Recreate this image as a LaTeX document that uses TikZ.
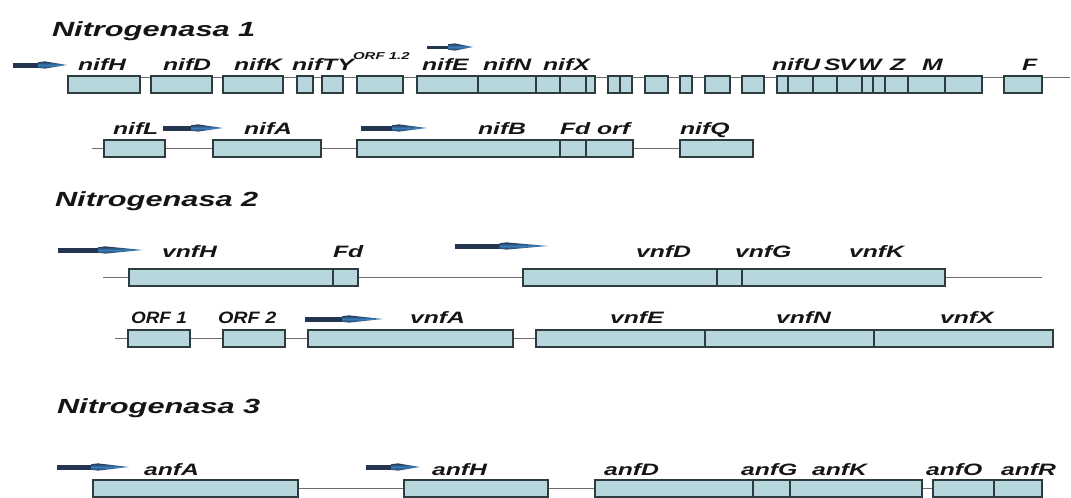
\documentclass[tikz,border=0pt]{standalone}
\usepackage{fontspec}
\usepackage{graphicx}
\setmainfont{Liberation Sans}
\usetikzlibrary{fit,backgrounds}
\definecolor{boxfill}{HTML}{B8D7DC}
\definecolor{boxline}{HTML}{2E3C40}
\definecolor{bbline}{HTML}{6E6E6E}
\definecolor{txt}{HTML}{151515}
\definecolor{arrdark}{HTML}{243552}
\definecolor{arrblue}{HTML}{3A7DB8}
\newcommand\sx[1]{\scalebox{1.5}[1]{#1}}
\newcommand\labfont{\fontsize{16.5}{19}\selectfont\bfseries\itshape}
\newcommand\ttlfont{\fontsize{20.5}{24}\selectfont\bfseries\itshape}
\newcommand\supfont{\fontsize{10}{12}\selectfont\bfseries\itshape}
\tikzset{
  gene/.style={draw=boxline, fill=boxfill, line width=1.4pt, inner sep=0pt, outer sep=0pt},
  backbone/.style={draw=bbline, line width=1pt},
  lab/.style={anchor=base west, inner sep=0pt, outer sep=0pt, text=txt, font=\labfont},
  ttl/.style={lab, font=\ttlfont},
  suplab/.style={lab, font=\supfont},
  arrbody/.style={draw=arrdark, line cap=butt},
}
% gene box: name, x1, x2, ytop
\newcommand\gene[4]{\node[gene, fit={(#2,#4) (#3,#4+17)}] (#1) {};}
% label: [style], name, x, baseline, text
\newcommand\glab[5][lab]{\node[#1] (#2) at (#3,#4) {\sx{#5}};}
% label with own horizontal scale: [style], name, x, baseline, text, scale
\newcommand\glabs[6][lab]{\node[#1] (#2) at (#3,#4) {\scalebox{#6}[1]{#5}};}
% promoter arrow: [body width], name, x1, x2, y
\newcommand\promo[5][5pt]{%
  \coordinate (#2s) at (#3,#5);
  \coordinate (#2e) at (#4,#5);
  \coordinate (#2h) at ({#3+0.5*(#4-#3)},#5);
  \draw[arrbody, line width=#1] (#2s) -- (#2h);
  \shade[top color=arrdark, bottom color=arrdark, middle color=arrblue]
    ([xshift=-2pt,yshift=2.8pt]#2h) -- ([xshift=5pt,yshift=3.6pt]#2h) -- (#2e)
    -- ([xshift=5pt,yshift=-3.6pt]#2h) -- ([xshift=-2pt,yshift=-2.8pt]#2h) -- cycle;
}
\begin{document}
\begin{tikzpicture}[x=1pt,y=-1pt]
\useasboundingbox (0,0) rectangle (1071,498);

% ---------------- Nitrogenasa 1 ----------------
\glab[ttl]{t1}{52}{36}{Nitrogenasa 1}
% row 1 genes
\gene{nifH}{68}{140}{76}
\gene{nifD}{151}{212}{76}
\gene{nifK}{223}{283}{76}
\gene{nifT}{297}{313}{76}
\gene{nifY}{322}{343}{76}
\gene{orf12}{357}{403}{76}
\gene{nifE}{417}{478}{76}
\gene{nifN}{478}{536}{76}
\gene{nifX}{536}{560}{76}
\gene{g1}{560}{586}{76}
\gene{g2}{586}{595}{76}
\gene{g3}{608}{620}{76}
\gene{g4}{620}{632}{76}
\gene{g5}{645}{668}{76}
\gene{g6}{680}{692}{76}
\gene{g7}{705}{730}{76}
\gene{g8}{742}{764}{76}
\gene{nifU}{777}{788}{76}
\gene{g9}{788}{813}{76}
\gene{nifS}{813}{837}{76}
\gene{nifV}{837}{862}{76}
\gene{nifW}{862}{873}{76}
\gene{g10}{873}{885}{76}
\gene{nifZ}{885}{908}{76}
\gene{nifM}{908}{945}{76}
\gene{g11}{945}{982}{76}
\gene{nifF}{1004}{1042}{76}
\coordinate (r1e) at (1070,77);
\begin{pgfonlayer}{background}
  \draw[backbone] ([yshift=-1pt]nifH.north west) -- (r1e);
\end{pgfonlayer}
\promo{a1}{13}{67}{65}
\promo[3pt]{a2}{427}{473}{47}
\glab{lnifH}{78}{70}{nifH}
\glab{lnifD}{163}{70}{nifD}
\glab{lnifK}{234}{70}{nifK}
\glab{lnifTY}{292}{70}{nifTY}
\glab[suplab]{lorf12}{353}{59}{ORF 1.2}
\glab{lnifE}{422}{70}{nifE}
\glab{lnifN}{483}{70}{nifN}
\glab{lnifX}{543}{70}{nifX}
\glab{lnifU}{772}{70}{nifU}
\glab{lS}{824}{70}{S}
\glab{lV}{839}{70}{V}
\glab{lW}{858}{70}{W}
\glab{lZ}{890}{70}{Z}
\glab{lM}{922}{70}{M}
\glab{lF}{1022}{70}{F}

% row 2 genes
\gene{nifL}{104}{165}{140}
\gene{nifA}{213}{321}{140}
\gene{nifB}{357}{560}{140}
\gene{nifFd}{560}{586}{140}
\gene{niforf}{586}{633}{140}
\gene{nifQ}{680}{753}{140}
\coordinate (r2s) at (92,148.5);
\begin{pgfonlayer}{background}
  \draw[backbone] (r2s) -- (nifQ.west);
\end{pgfonlayer}
\promo{a3}{163}{223}{128}
\promo{a4}{361}{427}{128}
\glab{lnifL}{113}{134}{nifL}
\glab{lnifA}{244}{134}{nifA}
\glab{lnifB}{478}{134}{nifB}
\glab{lFd1}{560}{134}{Fd}
\glab{lorf}{597}{134}{orf}
\glab{lnifQ}{680}{134}{nifQ}

% ---------------- Nitrogenasa 2 ----------------
\glab[ttl]{t2}{55}{206}{Nitrogenasa 2}
\gene{vnfH}{129}{333}{269}
\gene{vnfFd}{333}{358}{269}
\gene{vnfD}{523}{717}{269}
\gene{vnfG}{717}{742}{269}
\gene{vnfK}{742}{945}{269}
\coordinate (r3s) at (103,277.5);
\coordinate (r3e) at (1042,277.5);
\begin{pgfonlayer}{background}
  \draw[backbone] (r3s) -- (r3e);
\end{pgfonlayer}
\promo{a5}{58}{143}{250}
\promo{a6}{455}{548}{246}
\glab{lvnfH}{162}{257}{vnfH}
\glab{lFd2}{333}{257}{Fd}
\glab{lvnfD}{636}{257}{vnfD}
\glab{lvnfG}{735}{257}{vnfG}
\glab{lvnfK}{849}{257}{vnfK}

\gene{orf1}{128}{190}{330}
\gene{orf2}{223}{285}{330}
\gene{vnfA}{308}{513}{330}
\gene{vnfE}{536}{705}{330}
\gene{vnfN}{705}{874}{330}
\gene{vnfX}{874}{1053}{330}
\coordinate (r4s) at (115,338.5);
\begin{pgfonlayer}{background}
  \draw[backbone] (r4s) -- (vnfE.west);
\end{pgfonlayer}
\promo{a7}{305}{383}{319}
\glabs{lorf1}{131}{323}{ORF 1}{1.15}
\glabs{lorf2}{218}{323}{ORF 2}{1.2}
\glab{lvnfA}{410}{323}{vnfA}
\glab{lvnfE}{610}{323}{vnfE}
\glab{lvnfN}{776}{323}{vnfN}
\glab{lvnfX}{940}{323}{vnfX}

% ---------------- Nitrogenasa 3 ----------------
\glab[ttl]{t3}{57}{413}{Nitrogenasa 3}
\gene{anfA}{93}{298}{480}
\gene{anfH}{404}{548}{480}
\gene{anfD}{595}{753}{480}
\gene{anfG}{753}{790}{480}
\gene{anfK}{790}{922}{480}
\gene{anfO}{933}{994}{480}
\gene{anfR}{994}{1042}{480}
\begin{pgfonlayer}{background}
  \draw[backbone] (anfA.east) -- (anfH.west);
  \draw[backbone] (anfH.east) -- (anfD.west);
  \draw[backbone] (anfK.east) -- (anfO.west);
\end{pgfonlayer}
\promo{a8}{57}{129}{467}
\promo{a9}{366}{420}{467}
\glab{lanfA}{144}{475}{anfA}
\glab{lanfH}{432}{475}{anfH}
\glab{lanfD}{604}{475}{anfD}
\glab{lanfG}{741}{475}{anfG}
\glab{lanfK}{812}{475}{anfK}
\glab{lanfO}{926}{475}{anfO}
\glab{lanfR}{1001}{475}{anfR}
\end{tikzpicture}
\end{document}
